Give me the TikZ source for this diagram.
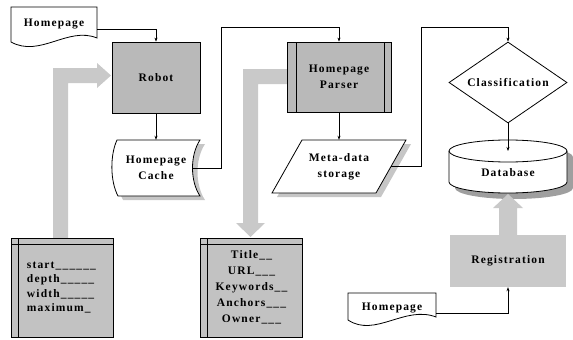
\documentclass[tikz,border=0pt]{standalone}
\usepackage{fontspec}
\setmainfont{Liberation Serif}[LetterSpace=10]
\usetikzlibrary{arrows.meta,shapes.geometric,shadows,calc}

\tikzset{
  flow/.style={-{Stealth[length=4pt,width=3pt]}, line width=0.6pt},
  outline/.style={line width=0.8pt, fill=white},
  procbox/.style={draw, line width=0.8pt, fill=gray!55, minimum width=88pt, minimum height=71pt, align=center},
  predef/.style={path picture={
      \draw ([xshift=9pt]path picture bounding box.north west) -- ([xshift=9pt]path picture bounding box.south west);
      \draw ([xshift=-7pt]path picture bounding box.north east) -- ([xshift=-7pt]path picture bounding box.south east);
  }},
  listbox/.style={draw, line width=0.8pt, fill=gray!48, minimum width=102pt, minimum height=99pt,
    path picture={
      \draw ([yshift=-6pt]path picture bounding box.north west) -- ([yshift=-6pt]path picture bounding box.north east);
      \draw ([xshift=7pt]path picture bounding box.north west) -- ([xshift=7pt]path picture bounding box.south west);
  }},
  fatarrow/.style={fill=gray!42},
  softshadow/.style={drop shadow={fill=gray!45, opacity=1, shadow xshift=5pt, shadow yshift=-4pt}},
  darkshadow/.style={drop shadow={fill=gray!75, opacity=1, shadow xshift=6pt, shadow yshift=-6pt}},
}

\begin{document}
\begin{tikzpicture}[x=1pt, y=-1pt, every node/.style={font=\bfseries\fontsize{11.5}{16}\selectfont, inner sep=0pt}]
    \useasboundingbox (0,0) rectangle (573,340);

    % --- wide pointers from the list boxes ---
    \fill[fatarrow] (53,238) -- (53,68) -- (97,68) -- (97,63) -- (111,75.5) -- (97,88) -- (97,83) -- (68,83) -- (68,238) -- cycle;
    \fill[fatarrow] (290,69) -- (243,69) -- (243,223) -- (236,223) -- (250.5,237) -- (265,223) -- (258,223) -- (258,84) -- (290,84) -- cycle;

    % --- crawler ---
    \draw[outline] (11,7) -- (97,7) -- (97,38) .. controls (68,26) and (40,58) .. (11,42) -- cycle;
    \node[minimum width=86pt, minimum height=30pt] (home1) at (54,24) {Homepage};

    \node[procbox] (robot) at (156,77.5) {Robot};

    \draw[outline, softshadow] (117,140) -- (200,140) .. controls (190,155) and (190,181) .. (200,196)
        -- (118,196) .. controls (110,181) and (110,155) .. (117,140) -- cycle;
    \node[align=center, minimum width=87pt, minimum height=56pt] (cache) at (156,168) {Homepage\\Cache};

    \node[listbox, text width=70pt, align=left, font=\bfseries\fontsize{11.5}{14.5}\selectfont] (params) at (62,287.5)
        {start\_\_\_\_\_\_\\depth\_\_\_\_\_\\width\_\_\_\_\_\\maximum\_};

    % --- parser ---
    \node[procbox, predef, minimum width=104pt, minimum height=70pt] (parser) at (339,77) {Homepage\\Parser};

    \draw[outline, softshadow] (302,140) -- (406,140) -- (376,193) -- (272,193) -- cycle;
    \node[align=center, minimum width=104pt, minimum height=53pt] (meta) at (339,166.5) {Meta-data\\storage};

    \node[listbox, align=center] (fields) at (251.5,287.5)
        {Title\_\_\\URL\_\_\_\\Keywords\_\_\\Anchors\_\_\_\\Owner\_\_\_};

    % --- classification and database ---
    \node[draw, diamond, aspect=1.45, line width=0.8pt, minimum width=118pt, minimum height=81pt] (class) at (508,82.5) {Classification};

    \draw[outline, darkshadow] (449,151) -- (449,182) arc[start angle=180, end angle=0, x radius=59, y radius=11]
        -- (567,151) arc[start angle=0, end angle=-180, x radius=59, y radius=11] -- cycle;
    \draw[line width=0.8pt] (449,151) arc[start angle=180, end angle=0, x radius=59, y radius=11];
    \coordinate (dbtop) at (508,151);
    \node (db) at (508,173) {Database};

    \node[fill=gray!42, minimum width=116pt, minimum height=52pt] (reg) at (508,261) {Registration};
    \fill[fatarrow] (499,235) -- (499,208) -- (493,208) -- (508,194) -- (523,208) -- (517,208) -- (517,235) -- cycle;

    \draw[outline] (348,293) -- (436,293) -- (436,317) .. controls (405,305) and (375,338) .. (348,320) -- cycle;
    \node[minimum width=88pt, minimum height=30pt] (home2) at (392,308) {Homepage};

    % --- connectors ---
    \draw[flow] ($(home1.east)+(0,5)$) -| (robot.north);
    \draw[flow] (robot.south) -- (cache.north);
    \draw[flow] ($(cache.east)+(-7,0)$) -- ++(29,0) |- ([yshift=14pt]parser.north) -- (parser.north);
    \draw[flow] (parser.south) -- (meta.north);
    \draw[flow] (meta.east) -- ++(30,0) |- ([yshift=14pt]class.north) -- (class.north);
    \draw[flow] (class.south) -- (dbtop);
    \draw[flow] ($(home2.east)+(0,5)$) -| (reg.south);
\end{tikzpicture}
\end{document}
